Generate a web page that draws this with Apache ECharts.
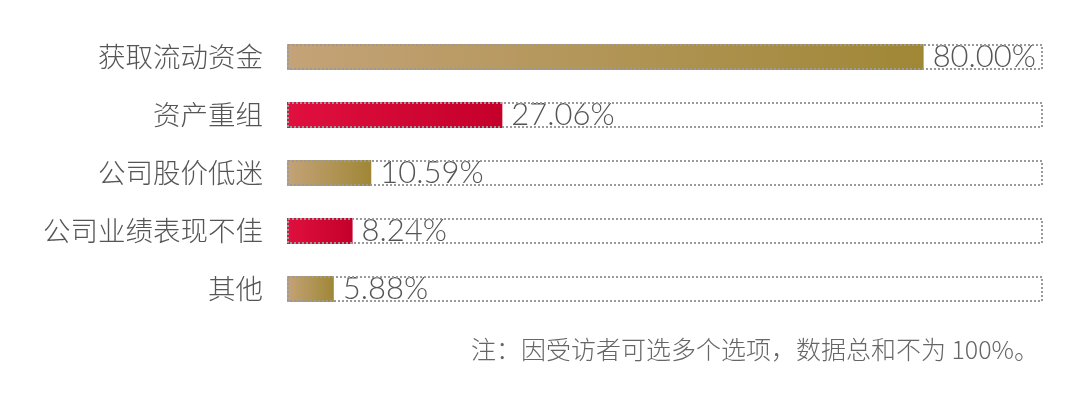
<!DOCTYPE html>
<html>
<head>
<meta charset="utf-8">
<script src="https://cdn.jsdelivr.net/npm/echarts@6/dist/echarts.min.js"></script>
<style>html,body{margin:0;padding:0;background:#fff;}#c{width:1080px;height:396px;}</style>
</head>
<body>
<div id="c"></div>
<script>
var categories = ['获取流动资金', '资产重组', '公司股价低迷', '公司业绩表现不佳', '其他'];
var values = [80.00, 27.06, 10.59, 8.24, 5.88];
var colorKinds = ['gold', 'red', 'gold', 'red', 'gold'];
var axisMax = 95;
var note = '注：因受访者可选多个选项，数据总和不为 100%。';

var grads = {
  gold: new echarts.graphic.LinearGradient(0, 0, 1, 0, [{offset: 0, color: '#c4a378'}, {offset: 1, color: '#9f8736'}]),
  red: new echarts.graphic.LinearGradient(0, 0, 1, 0, [{offset: 0, color: '#e0103f'}, {offset: 1, color: '#c4002a'}])
};

var chart = echarts.init(document.getElementById('c'), null, {renderer: 'canvas'});
chart.setOption({
  animation: false,
  grid: {left: 287, width: 756, top: 28, height: 290},
  xAxis: {type: 'value', min: 0, max: axisMax, show: false},
  yAxis: {
    type: 'category', inverse: true, data: categories,
    axisLine: {show: false}, axisTick: {show: false},
    axisLabel: {margin: 24, fontSize: 27.5, color: '#555', fontFamily: '"Noto Sans CJK SC"', fontWeight: 300}
  },
  series: [{
    type: 'bar', barWidth: 26,
    data: values.map(function (v, i) { return {value: v, itemStyle: {color: grads[colorKinds[i]]}}; }),
    label: {
      show: true, position: 'right', distance: 9,
      formatter: function (p) { return p.value.toFixed(2) + '%'; },
      fontSize: 31, color: '#555', fontFamily: 'Lato', fontWeight: 300
    },
    z: 2
  }, {
    type: 'bar', barWidth: 26, barGap: '-100%',
    data: values.map(function () { return axisMax; }),
    itemStyle: {color: 'rgba(0,0,0,0)', borderColor: '#9a9a9a', borderWidth: 2, borderType: [2, 2]},
    silent: true, z: 3
  }],
  graphic: [{
    type: 'text', right: 41, top: 337,
    style: {text: note, fontSize: 25, fill: '#666', fontFamily: '"Noto Sans CJK SC"', fontWeight: 300}
  }]
});
</script>
</body>
</html>
